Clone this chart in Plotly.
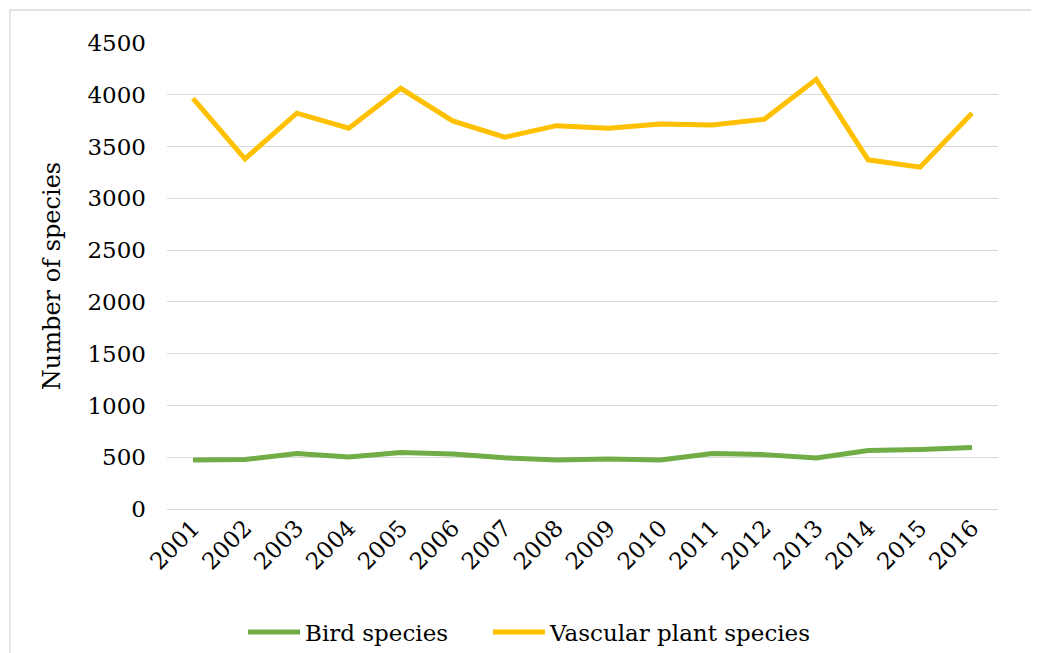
import plotly.graph_objects as go

years = [str(y) for y in range(2001, 2017)]
bird_species = [474, 478, 535, 503, 545, 532, 495, 474, 484, 474, 535, 525, 492, 564, 574, 593]
vascular_species = [3966, 3381, 3822, 3677, 4062, 3747, 3590, 3702, 3677, 3718, 3709, 3763, 4149, 3372, 3301, 3822]
y_ticks = list(range(0, 4501, 500))

# Times-like serif fonts aren't available in the renderer, DejaVu Serif is
FONT = 'DejaVu Serif'
W, H = 1039, 653
# page body adds an 8px offset, margins compensate for it
L, R, T, B = 159, 49, 35, 152

fig = go.Figure()
fig.add_trace(go.Scatter(x=years, y=bird_species, name='Bird species', mode='lines',
                         line=dict(color='#70AD47', width=5), legend='legend', showlegend=True))
fig.add_trace(go.Scatter(x=years, y=vascular_species, name='Vascular plant species', mode='lines',
                         line=dict(color='#FFC000', width=5), legend='legend2', showlegend=True))

# light chart-area border (only top/left edges visible in the reference)
pw, ph = W - L - R, H - T - B
fig.add_shape(type='rect', xref='paper', yref='paper',
              x0=(2 - L) / pw, x1=(W + 40 - L) / pw,
              y0=-(B + 40) / ph, y1=1 + (T - 2) / ph,
              line=dict(color='#D9D9D9', width=1.3), fillcolor='rgba(0,0,0,0)', layer='below')

fig.update_xaxes(type='category', range=[-0.5, len(years) - 0.5], tickangle=-45,
                 showgrid=False, showline=False, ticks='',
                 tickfont=dict(family=FONT, size=23, color='black'))
fig.update_yaxes(range=[0, 4500], tickvals=y_ticks, showgrid=True, gridcolor='#D9D9D9', gridwidth=1.3,
                 zeroline=True, zerolinecolor='#D9D9D9', zerolinewidth=1.3,
                 ticks='', ticklabelstandoff=20,
                 tickfont=dict(family=FONT, size=23, color='black'),
                 title=dict(text='Number of species', font=dict(family=FONT, size=24, color='black'),
                            standoff=20))

legend_style = dict(orientation='h', xref='container', yref='container', xanchor='left',
                    y=29 / H, yanchor='middle', itemwidth=52,
                    font=dict(family=FONT, size=23, color='black'))
fig.update_layout(width=W, height=H, margin=dict(l=L, r=R, t=T, b=B),
                  plot_bgcolor='white', paper_bgcolor='white',
                  font=dict(family=FONT), showlegend=True,
                  legend=dict(x=235 / W, **legend_style),
                  legend2=dict(x=480 / W, **legend_style))
fig.write_html('out.html')
